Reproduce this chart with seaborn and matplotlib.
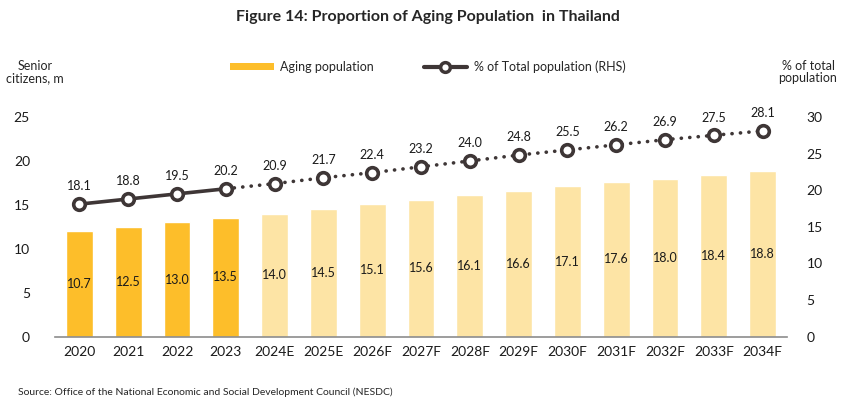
import numpy as np
import pandas as pd
import seaborn as sns
import matplotlib.pyplot as plt
from matplotlib.lines import Line2D
from matplotlib.patches import Patch

sns.set_style("white")
plt.rcParams["font.family"] = ["Lato", "DejaVu Sans"]

years = ["2020", "2021", "2022", "2023", "2024E", "2025E", "2026F", "2027F",
         "2028F", "2029F", "2030F", "2031F", "2032F", "2033F", "2034F"]
aging_pop = [12.0, 12.5, 13.0, 13.5, 14.0, 14.5, 15.1, 15.6, 16.1, 16.6,
             17.1, 17.6, 18.0, 18.4, 18.8]
aging_labels = ["10.7", "12.5", "13.0", "13.5", "14.0", "14.5", "15.1", "15.6",
                "16.1", "16.6", "17.1", "17.6", "18.0", "18.4", "18.8"]
share_pct = [18.1, 18.8, 19.5, 20.2, 20.9, 21.7, 22.4, 23.2, 24.0, 24.8,
             25.5, 26.2, 26.9, 27.5, 28.1]
n_actual = 4

ACTUAL = "#FDBE2A"
FORECAST = "#FDE4A5"
LINE = "#3E3636"

df = pd.DataFrame({"year": years, "aging": aging_pop, "share": share_pct})
df["pos"] = np.arange(len(df))
bar_colors = [ACTUAL] * n_actual + [FORECAST] * (len(df) - n_actual)

fig = plt.figure(figsize=(8.55, 4.12), dpi=100)
ax = fig.add_axes([55 / 855, 1 - 336.7 / 412, 732 / 855, 219.7 / 412])

sns.barplot(data=df, x="year", y="aging", hue="year", palette=bar_colors,
            width=0.55, saturation=1, legend=False, ax=ax)
for i, (v, lab) in enumerate(zip(aging_pop, aging_labels)):
    ax.text(i, v / 2, lab, ha="center", va="center", fontsize=9, color="#1a1a1a")

ax.set_ylim(0, 25)
ax.set_xlim(-0.5, len(df) - 0.5)
ax.set_yticks([0, 5, 10, 15, 20, 25])
ax.set_xlabel("")
ax.set_ylabel("")
ax.tick_params(axis="both", length=0, labelsize=10, colors="#1a1a1a")
ax.tick_params(axis="y", pad=18)
ax.tick_params(axis="x", pad=7)
for s in ["top", "right", "left"]:
    ax.spines[s].set_visible(False)
ax.spines["bottom"].set_color("#8c8c8c")
ax.spines["bottom"].set_linewidth(1.2)

ax2 = ax.twinx()
solid = df.iloc[:n_actual]
dotted = df.iloc[n_actual - 1:]
sns.lineplot(data=solid, x="pos", y="share", color=LINE, linewidth=2.6, ax=ax2)
sns.lineplot(data=dotted, x="pos", y="share", color=LINE, linewidth=2.6,
             linestyle=(0, (0.05, 2.3)), ax=ax2)
ax2.lines[-1].set_dash_capstyle("round")
sns.scatterplot(data=df, x="pos", y="share", marker="o", s=70, color="white",
                edgecolor=LINE, linewidth=2.6, zorder=5, ax=ax2)
for i, v in enumerate(share_pct):
    ax2.text(i, v + 1.6, f"{v:.1f}", ha="center", va="bottom", fontsize=9,
             color="#1a1a1a")
ax2.set_ylim(0, 30)
ax2.set_yticks([0, 5, 10, 15, 20, 25, 30])
ax2.set_xlabel("")
ax2.set_ylabel("")
ax2.tick_params(axis="y", length=0, labelsize=10, colors="#1a1a1a", pad=14)
for s in ["top", "right", "left", "bottom"]:
    ax2.spines[s].set_visible(False)
ax2.set_xlim(-0.5, len(df) - 0.5)

fig.text(0.5, 1 - 17 / 412, "Figure 14: Proportion of Aging Population  in Thailand",
         ha="center", va="center", fontsize=11.5, fontweight="bold")
fig.text(35 / 855, 1 - 72 / 412, "Senior\ncitizens, m", ha="center", va="center",
         fontsize=9, linespacing=1.1)
fig.text(808 / 855, 1 - 72 / 412, "% of total\npopulation", ha="center", va="center",
         fontsize=9, linespacing=1.1)
fig.text(18 / 855, 1 - 392 / 412,
         "Source: Office of the National Economic and Social Development Council (NESDC)",
         ha="left", va="center", fontsize=7.5)

handles = [
    Patch(facecolor=ACTUAL, edgecolor="none"),
    Line2D([0], [0], color=LINE, linewidth=3, marker="o", markersize=7,
           markerfacecolor="white", markeredgecolor=LINE, markeredgewidth=2.5),
]
fig.legend(handles, ["Aging population", "% of Total population (RHS)"],
           loc="center", bbox_to_anchor=(0.5, 1 - 67 / 412), ncol=2, frameon=False,
           fontsize=9, handlelength=3.5, handleheight=0.5, columnspacing=4,
           handletextpad=0.5)

fig.savefig("out.png", dpi=100)
